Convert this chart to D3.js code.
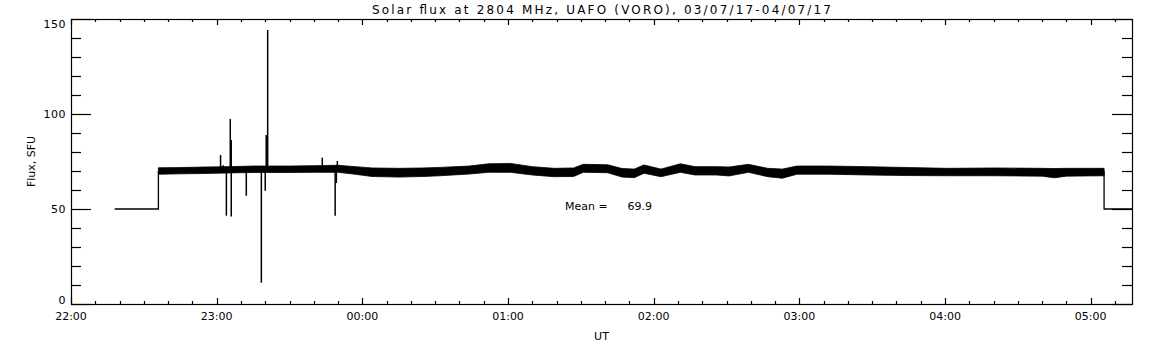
<!DOCTYPE html>
<html>
<head>
<meta charset="utf-8">
<script src="https://cdn.jsdelivr.net/npm/d3@7"></script>
<style>
  html, body { margin: 0; padding: 0; background: #fff; }
  #chart { width: 1152px; height: 345px; }
  text { font-family: "DejaVu Sans", sans-serif; fill: #000; }
</style>
</head>
<body>
<div id="chart"></div>
<script>
// minutes after 22:00 UT on 03/07/17
const xDomain = [0, 437];
const yDomain = [0, 150];
const hourLabels = ["22:00", "23:00", "00:00", "01:00", "02:00", "03:00", "04:00", "05:00"];
const yLabels = [0, 50, 100, 150];

// flat calibration level before / after the observation
const leadIn = [[18, 50], [36, 50], [36, 70]];
const tailOut = [[425.5, 70], [425.5, 50], [437, 50]];

// envelope of the noisy flux band (min / max per read point)
const bandTime = [36, 45, 55, 65, 75, 90, 100, 110, 117, 124, 135, 145, 152, 164, 172, 181, 190, 199, 207, 211, 221, 227, 232, 236, 243, 251, 257, 266, 271, 279, 287, 293, 299, 312, 328, 345, 361, 381, 400, 405, 410, 425.5];
const bandHi = [71.7, 71.8, 72.1, 72.3, 72.6, 72.6, 72.8, 73.0, 72.3, 71.6, 71.4, 71.6, 71.9, 72.6, 73.8, 74.0, 72.3, 71.4, 71.6, 73.5, 73.3, 71.3, 71.0, 73.2, 71.0, 73.8, 72.3, 72.3, 72.1, 73.5, 71.4, 71.0, 72.6, 72.6, 72.3, 71.8, 71.4, 71.6, 71.4, 71.3, 71.4, 71.4];
const bandLo = [68.3, 68.5, 68.7, 69.0, 69.2, 69.2, 69.3, 69.3, 68.3, 67.1, 66.8, 67.1, 67.5, 68.4, 69.3, 69.3, 67.9, 67.0, 67.1, 69.3, 69.1, 66.8, 66.5, 68.8, 67.0, 69.3, 67.9, 67.9, 67.4, 69.3, 67.0, 66.2, 68.3, 68.3, 67.9, 67.6, 67.5, 67.5, 67.3, 66.4, 67.3, 67.5];

// interference spikes: time and extreme value
const spikeTime = [61.6, 62.7, 64.0, 65.6, 66.0, 66.0, 72.2, 78.4, 80.0, 80.4, 81.0, 103.5, 108.8, 109.3, 109.7];
const spikeValue = [78.4, 73.0, 46.5, 97.4, 86.3, 46.0, 57.0, 11.2, 59.6, 89.0, 144.2, 77.0, 46.5, 63.7, 75.3];

const meanValue = 69.9;
const title = "Solar flux at 2804 MHz, UAFO (VORO),  03/07/17-04/07/17";

const W = 1152, H = 345;
const margin = { top: 19, right: 20, bottom: 41, left: 71 };
const x0 = margin.left, x1 = W - margin.right;
const y0 = H - margin.bottom, y1 = margin.top;

const x = d3.scaleLinear().domain(xDomain).range([x0, x1]);
const y = d3.scaleLinear().domain(yDomain).range([y0, y1]);

const svg = d3.select("#chart").append("svg")
  .attr("width", W)
  .attr("height", H);

// title
svg.append("text")
  .attr("x", (x0 + x1) / 2)
  .attr("y", 14)
  .attr("text-anchor", "middle")
  .attr("font-size", 12)
  .attr("textLength", 459)
  .attr("lengthAdjust", "spacing")
  .text(title);

// data
const band = bandTime.map((t, i) => ({ t, hi: bandHi[i], lo: bandLo[i] }));
svg.append("path")
  .datum(band)
  .attr("fill", "#000")
  .attr("stroke", "#000")
  .attr("stroke-width", 0.8)
  .attr("d", d3.area().x(d => x(d.t)).y0(d => y(d.lo)).y1(d => y(d.hi)));

const line = d3.line().x(d => x(d[0])).y(d => y(d[1]));
[leadIn, tailOut].forEach(seg => {
  svg.append("path")
    .attr("fill", "none")
    .attr("stroke", "#000")
    .attr("stroke-width", 1.3)
    .attr("d", line(seg));
});

svg.append("g")
  .selectAll("line")
  .data(spikeTime.map((t, i) => ({ t, v: spikeValue[i] })))
  .join("line")
  .attr("x1", d => x(d.t))
  .attr("x2", d => x(d.t))
  .attr("y1", y(meanValue))
  .attr("y2", d => y(d.v))
  .attr("stroke", "#000")
  .attr("stroke-width", 1.5);

// frame
svg.append("rect")
  .attr("x", x0 + 0.5)
  .attr("y", y1 + 0.5)
  .attr("width", x1 - x0)
  .attr("height", y0 - y1)
  .attr("fill", "none")
  .attr("stroke", "#000")
  .attr("stroke-width", 1.2);

const tickG = svg.append("g").attr("stroke", "#000").attr("stroke-width", 1.2);

// x ticks every 10 minutes, long on the hour (bottom and top)
d3.range(0, xDomain[1] + 1, 10).forEach(m => {
  const len = m % 60 === 0 ? 6 : 3;
  const px = Math.round(x(m)) + 0.5;
  tickG.append("line").attr("x1", px).attr("x2", px).attr("y1", y0).attr("y2", y0 - len);
  tickG.append("line").attr("x1", px).attr("x2", px).attr("y1", y1).attr("y2", y1 + len);
});

// y ticks every 10, long every 50 (left and right)
d3.range(0, yDomain[1] + 1, 10).forEach(v => {
  const len = v % 50 === 0 ? 20 : 10;
  const py = Math.round(y(v)) + 0.5;
  tickG.append("line").attr("x1", x0).attr("x2", x0 + len).attr("y1", py).attr("y2", py);
  tickG.append("line").attr("x1", x1).attr("x2", x1 - len).attr("y1", py).attr("y2", py);
});

// tick labels
svg.append("g")
  .selectAll("text")
  .data(hourLabels)
  .join("text")
  .attr("x", (d, i) => x(i * 60))
  .attr("y", 320)
  .attr("text-anchor", "middle")
  .attr("font-size", 11)
  .text(d => d);

svg.append("g")
  .selectAll("text")
  .data(yLabels)
  .join("text")
  .attr("x", x0 - 5)
  .attr("y", d => d === yDomain[0] ? y(d) : d === yDomain[1] ? y(d) + 9 : y(d) + 4)
  .attr("text-anchor", "end")
  .attr("font-size", 11)
  .attr("letter-spacing", 0.5)
  .text(d => d);

// axis titles
svg.append("text")
  .attr("x", (x0 + x1) / 2)
  .attr("y", 340)
  .attr("text-anchor", "middle")
  .attr("font-size", 11)
  .text("UT");

svg.append("text")
  .attr("transform", `translate(35,${(y0 + y1) / 2}) rotate(-90)`)
  .attr("text-anchor", "middle")
  .attr("font-size", 11)
  .text("Flux, SFU");

// mean annotation
svg.append("text")
  .attr("x", 565)
  .attr("y", 210)
  .attr("font-size", 11)
  .text("Mean =");
svg.append("text")
  .attr("x", 652)
  .attr("y", 210)
  .attr("text-anchor", "end")
  .attr("font-size", 11)
  .text(meanValue.toFixed(1));
</script>
</body>
</html>
